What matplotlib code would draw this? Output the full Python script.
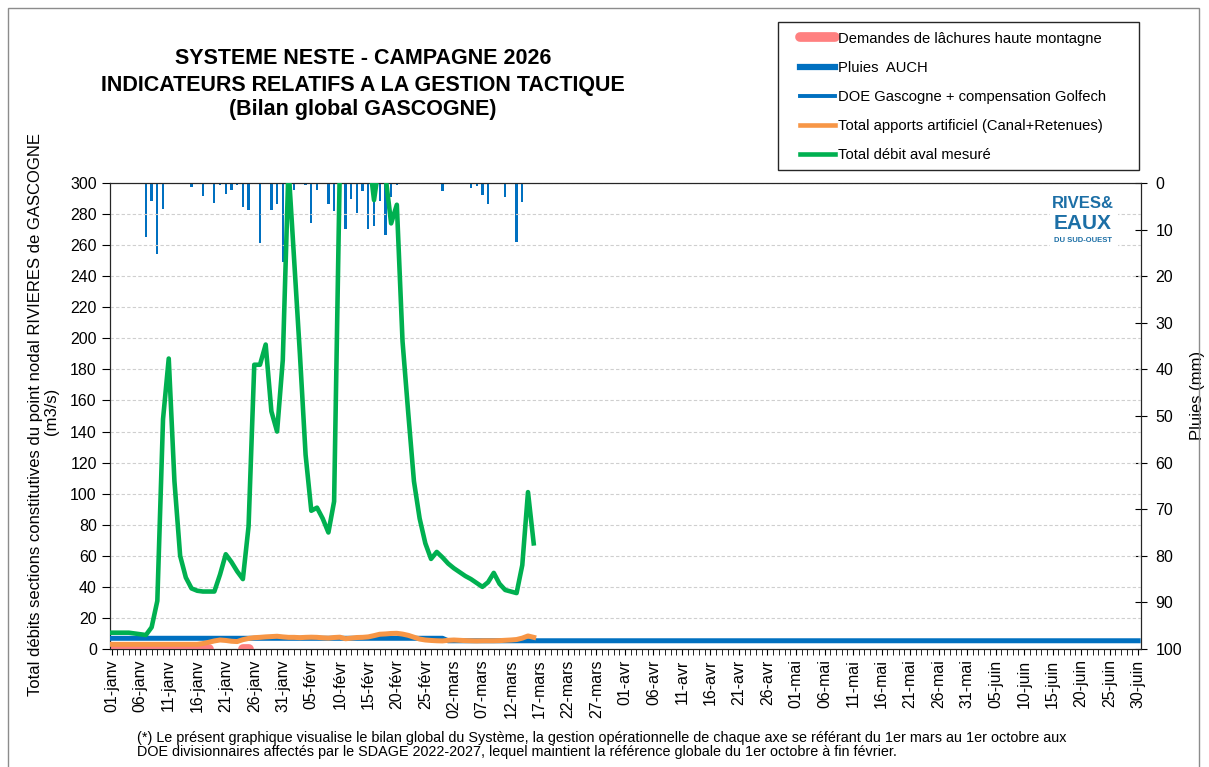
import numpy as np
import pandas as pd
import matplotlib
matplotlib.use('Agg')
import matplotlib.pyplot as plt
from matplotlib.lines import Line2D
from matplotlib.patches import Rectangle

plt.rcParams['font.family'] = ['Liberation Sans', 'DejaVu Sans']

# axe des dates : campagne du 1er janvier au 30 juin
dates = pd.date_range('2026-01-01', '2026-06-30')
mois = {1: 'janv', 2: 'févr', 3: 'mars', 4: 'avr', 5: 'mai', 6: 'juin'}

# débit aval mesuré (m3/s), du 01-janv au 16-mars
debit_aval = [10.5, 10.5, 10.5, 10.5, 10, 9.5, 9, 14, 31, 148,
              187, 108, 60, 46, 39, 37.5, 37, 37, 37, 48,
              61, 56, 50, 45, 79, 183, 183, 196, 153, 140,
              186, 310, 250, 190, 125, 89, 91, 84, 75, 95,
              310, 340, 360, 350, 330, 320, 289, 315, 305, 274,
              286, 198, 152, 108, 84, 68, 58, 62.5, 59, 55,
              52, 49.5, 47, 45, 42.5, 40, 43, 49, 42, 38,
              37, 36, 54, 101, 68]

# apports artificiels (Canal + Retenues)
apports = [3] * 16 + [3.5, 4.3, 5.2, 5.8, 5.5, 5.0, 4.8, 6.0, 6.8, 7.3,
                      7.5, 7.8, 8.0, 8.2, 7.8, 7.5, 7.5, 7.3, 7.5, 7.6,
                      7.5, 7.2, 7.0, 7.4, 7.6, 6.6, 7.0, 7.4, 7.5, 7.8,
                      8.6, 9.5, 9.7, 10.0, 10.1, 9.6, 8.8, 7.6, 6.4, 5.8,
                      5.5, 5.3, 5.2, 5.6, 5.8, 5.6, 5.4, 5.3, 5.2, 5.3,
                      5.3, 5.3, 5.4, 5.6, 5.8, 6.1, 7.0, 8.4, 7.5]

# demandes de lâchures haute montagne (nan = pas de demande)
lachures = [0] * 18 + [np.nan] * 5 + [0, 0]

# DOE Gascogne + compensation Golfech
doe_hiver = 6.9   # janv - févr
doe_ete = 5.3     # à partir du 1er mars

# pluies AUCH (mm)
pluie_jours = [6, 7, 8, 9, 14, 15, 16, 18, 19, 20, 21, 22, 23, 24, 25, 26,
               28, 29, 30, 31, 32, 34, 35, 36, 38, 39, 40, 41, 42, 43, 44,
               45, 46, 47, 48, 49, 50, 57, 58, 63, 64, 65, 66, 69, 71, 72]
pluie_mm = [11.5, 3.9, 15.3, 5.6, 0.9, 0.3, 2.7, 4.2, 0.4, 2.4, 1.4, 0.4,
            5.2, 5.9, 0.2, 12.9, 5.9, 4.5, 17.0, 2.0, 1.5, 0.4, 8.5, 1.4,
            4.4, 6.0, 1.0, 9.9, 3.4, 6.5, 1.7, 9.9, 9.2, 3.9, 11.2, 3.0,
            0.4, 0.3, 1.7, 1.1, 0.6, 2.6, 4.6, 2.9, 12.7, 4.0]

n = len(dates)
x = np.arange(n)
labels = [f"{d.day:02d}-{mois[d.month]}" for d in dates]
doe = np.where(dates.month <= 2, doe_hiver, doe_ete)

W, H = 1209, 767
fig = plt.figure(figsize=(W / 100, H / 100), dpi=100)
ax = fig.add_axes([110 / W, 1 - 649 / H, (1141 - 110) / W, (649 - 183) / H])
ax2 = ax.twinx()

# pluies sur l'axe de droite (inversé)
ax2.bar(pluie_jours, pluie_mm, width=0.4, color='#0070C0', zorder=2)
ax2.set_ylim(100, 0)
ax2.set_yticks(range(0, 101, 10))
ax2.tick_params(axis='y', direction='inout', length=9, labelsize=11.5, pad=6)
ax2.set_ylabel('Pluies (mm)', fontsize=12)
ax2.yaxis.set_label_coords(1.048, 0.545)

ax.set_zorder(ax2.get_zorder() + 1)
ax.patch.set_visible(False)

ax.plot(x[:len(lachures)], lachures, color='#FF8080', lw=7, solid_capstyle='round', zorder=2)
ax.plot(x, doe, color='#0070C0', lw=3.6, zorder=3)
ax.plot(x[:len(apports)], apports, color='#F79646', lw=3.6, zorder=4)
ax.plot(x[:len(debit_aval)], debit_aval, color='#00B050', lw=3.3, zorder=5)

ax.set_xlim(-0.3, 180.5)
ax.set_ylim(0, 300)
ax.set_yticks(range(0, 301, 20))
ax.set_xticks(x[::5])
ax.set_xticklabels(labels[::5], rotation=90)
ax.set_xticks(x, minor=True)
ax.tick_params(axis='x', which='both', direction='out', length=4, labelsize=11.5)
ax.tick_params(axis='y', direction='out', length=6, labelsize=11.5)
ax.grid(axis='y', color='#CFCFCF', ls=(0, (3, 2)), lw=0.8)
ax.set_axisbelow(True)
for s in ax.spines.values():
    s.set_color('#262626')

# titre de l'axe de gauche (deux lignes)
fig.text(36 / W, 1 - 415 / H,
         'Total débits sections constitutives du point nodal RIVIERES de GASCOGNE',
         rotation=90, ha='center', va='center', fontsize=12)
fig.text(51 / W, 1 - 411 / H, '(m3/s)', rotation=90, ha='center', va='center', fontsize=12)

# titre
for txt, yy in [('SYSTEME NESTE - CAMPAGNE 2026', 59),
                ('INDICATEURS RELATIFS A LA GESTION TACTIQUE', 86),
                ('(Bilan global GASCOGNE)', 110)]:
    fig.text(363 / W, 1 - yy / H, txt, ha='center', va='center',
             fontsize=15.5, fontweight='bold')

# légende
handles = [Line2D([], [], color='#FF8080', lw=7, solid_capstyle='round'),
           Line2D([], [], color='#0070C0', lw=4.5),
           Line2D([], [], color='#0070C0', lw=2.8),
           Line2D([], [], color='#F79646', lw=3.3),
           Line2D([], [], color='#00B050', lw=3.3)]
noms = ['Demandes de lâchures haute montagne', 'Pluies  AUCH',
        'DOE Gascogne + compensation Golfech', 'Total apports artificiel (Canal+Retenues)',
        'Total débit aval mesuré']
fig.legend(handles, noms, loc='upper left', bbox_to_anchor=(800 / W, 1 - 31.5 / H),
           borderaxespad=0, borderpad=0, fontsize=10.6, handlelength=2.4,
           handletextpad=0.2, labelspacing=1.03, frameon=False)
fig.add_artist(Rectangle((778 / W, 1 - 170 / H), (1139 - 778) / W, 148 / H,
                         transform=fig.transFigure, fill=False, edgecolor='#262626', lw=1))

# logo
fig.add_artist(Rectangle((1050 / W, 1 - 248 / H), 68 / W, 60 / H, transform=fig.transFigure,
                         facecolor='white', edgecolor='none', zorder=3))
logo_c = '#1C6FA6'
fig.text(1083 / W, 1 - 204 / H, 'RIVES&', ha='center', va='center', fontsize=12,
         fontweight='bold', color=logo_c, zorder=4)
fig.text(1083 / W, 1 - 224 / H, 'EAUX', ha='center', va='center', fontsize=15,
         fontweight='bold', color=logo_c, zorder=4)
fig.text(1083 / W, 1 - 240 / H, 'DU SUD-OUEST', ha='center', va='center', fontsize=5.5,
         fontweight='bold', color=logo_c, zorder=4)

# note de bas de page
fig.text(137 / W, 1 - 738 / H,
         "(*) Le présent graphique visualise le bilan global du Système, la gestion opérationnelle "
         "de chaque axe se référant du 1er mars au 1er octobre aux",
         ha='left', va='center', fontsize=10.4)
fig.text(137 / W, 1 - 752 / H,
         "DOE divisionnaires affectés par le SDAGE 2022-2027, lequel maintient la référence "
         "globale du 1er octobre à fin février.",
         ha='left', va='center', fontsize=10.4)

# cadre du graphique
fig.add_artist(Rectangle((8 / W, -0.01), (1199 - 8) / W, 1 - 8 / H + 0.01,
                         transform=fig.transFigure, fill=False, edgecolor='#8C8C8C', lw=1))

fig.savefig('out.png', dpi=100)
